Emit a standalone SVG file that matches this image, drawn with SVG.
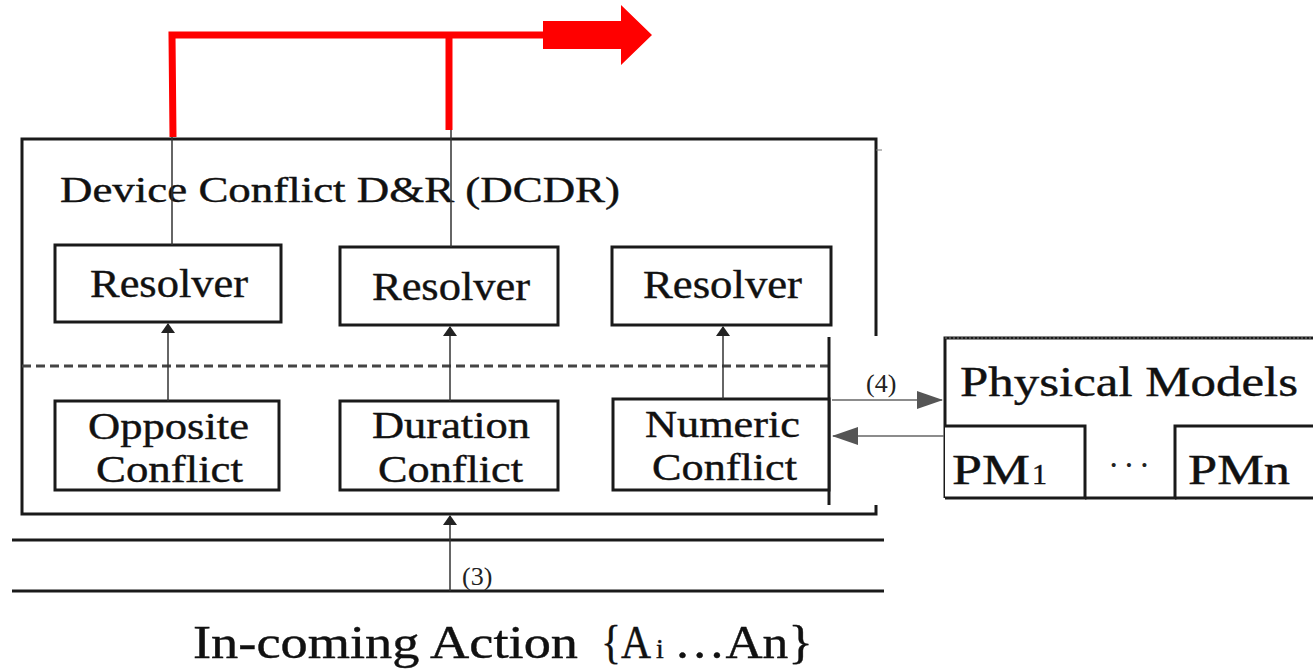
<svg xmlns="http://www.w3.org/2000/svg" width="1313" height="669" viewBox="0 0 1313 669">
<style>
.box{fill:#fff;stroke:#1a1a1a;stroke-width:3}
.t{font-family:"Liberation Serif","Times New Roman",serif;fill:#111;stroke:#111;stroke-width:0.4}
.s{font-family:"Liberation Serif","Times New Roman",serif;fill:#222}
.thin{stroke:#333;stroke-width:1.5;fill:none}
.red{stroke:#ff0000;stroke-width:7;fill:none}
</style>
<defs>
<marker id="ah" markerWidth="10" markerHeight="14" refX="9" refY="7" orient="auto" markerUnits="userSpaceOnUse">
<path d="M0,0 L10,7 L0,14 z" fill="#222"/>
</marker>
<marker id="ahg" markerWidth="26" markerHeight="18" refX="25" refY="9" orient="auto" markerUnits="userSpaceOnUse">
<path d="M0,0 L26,9 L0,18 z" fill="#555"/>
</marker>
</defs>
<rect width="1313" height="669" fill="#fff"/>

<g id="dcdr">
<path d="M876,336 L876,139 L22,139 L22,514 L876,514 L876,505" fill="none" stroke="#1a1a1a" stroke-width="3"/>
<line x1="876" y1="150" x2="882" y2="150" stroke="#777" stroke-width="1"/>
<text class="t" x="60" y="202" font-size="35" textLength="560" lengthAdjust="spacingAndGlyphs">Device Conflict D&amp;R (DCDR)</text>
<line x1="22" y1="366" x2="828" y2="366" stroke="#444" stroke-width="3" stroke-dasharray="9,5"/>
<line x1="829" y1="337" x2="829" y2="505" stroke="#1a1a1a" stroke-width="3"/>
</g>

<g id="resolver1"><rect class="box" x="55" y="245" width="226" height="77"/><text class="t" x="90" y="297" font-size="39" textLength="158" lengthAdjust="spacingAndGlyphs">Resolver</text></g>
<g id="resolver2"><rect class="box" x="340" y="247" width="218" height="78"/><text class="t" x="372" y="300" font-size="39" textLength="158" lengthAdjust="spacingAndGlyphs">Resolver</text></g>
<g id="resolver3"><rect class="box" x="612" y="247" width="219" height="78"/><text class="t" x="643" y="298" font-size="39" textLength="159" lengthAdjust="spacingAndGlyphs">Resolver</text></g>

<g id="opposite"><rect class="box" x="55" y="401" width="224" height="89"/>
<text class="t" x="88" y="439" font-size="38" textLength="161" lengthAdjust="spacingAndGlyphs">Opposite</text>
<text class="t" x="96" y="482" font-size="38" textLength="147" lengthAdjust="spacingAndGlyphs">Conflict</text></g>
<g id="duration"><rect class="box" x="340" y="401" width="218" height="89"/>
<text class="t" x="372" y="438" font-size="38" textLength="158" lengthAdjust="spacingAndGlyphs">Duration</text>
<text class="t" x="378" y="482" font-size="38" textLength="145" lengthAdjust="spacingAndGlyphs">Conflict</text></g>
<g id="numeric"><rect class="box" x="613" y="399" width="216" height="91"/>
<text class="t" x="645" y="437" font-size="38" textLength="155" lengthAdjust="spacingAndGlyphs">Numeric</text>
<text class="t" x="652" y="480" font-size="38" textLength="145" lengthAdjust="spacingAndGlyphs">Conflict</text></g>

<g id="physical-models">
<path d="M945,498 L945,338 L1313,338" fill="none" stroke="#1a1a1a" stroke-width="3"/>
<line x1="945" y1="338" x2="1313" y2="338" stroke="#888" stroke-width="1" stroke-dasharray="2,2"/>
<text class="t" x="960" y="396" font-size="42" textLength="338" lengthAdjust="spacingAndGlyphs">Physical Models</text>
</g>
<g id="pm1"><path d="M945,426 L1085,426 L1085,498 L945,498" fill="#fff" stroke="#1a1a1a" stroke-width="3"/>
<text class="t" x="952" y="484" font-size="42" textLength="78" lengthAdjust="spacingAndGlyphs">PM</text>
<text class="t" x="1032" y="484" font-size="30">1</text></g>
<text class="s" x="1108" y="476" font-size="34" letter-spacing="4" id="dots">···</text>
<g id="pmn"><path d="M1313,426 L1175,426 L1175,498 L1085,498" fill="none" stroke="#1a1a1a" stroke-width="3"/>
<line x1="1175" y1="498" x2="1313" y2="498" stroke="#1a1a1a" stroke-width="3"/>
<text class="t" x="1188" y="484" font-size="42" textLength="102" lengthAdjust="spacingAndGlyphs">PMn</text></g>

<g id="bus">
<line x1="12" y1="540" x2="884" y2="540" stroke="#1a1a1a" stroke-width="3"/>
<line x1="12" y1="591" x2="884" y2="591" stroke="#1a1a1a" stroke-width="3"/>
</g>

<g id="connectors">
<line class="thin" x1="172" y1="137" x2="172" y2="245"/>
<line class="thin" x1="451" y1="130" x2="451" y2="247"/>
<line class="thin" x1="168" y1="401" x2="168" y2="324" marker-end="url(#ah)"/>
<line class="thin" x1="450" y1="401" x2="450" y2="327" marker-end="url(#ah)"/>
<line class="thin" x1="723" y1="399" x2="723" y2="327" marker-end="url(#ah)"/>
<line class="thin" x1="450" y1="591" x2="450" y2="516" marker-end="url(#ah)"/>
<line x1="832" y1="400" x2="942" y2="400" stroke="#666" stroke-width="1.5" marker-end="url(#ahg)"/>
<line x1="944" y1="436" x2="833" y2="436" stroke="#666" stroke-width="1.5" marker-end="url(#ahg)"/>
<path class="red" d="M173,137 L172,35 L545,35"/>
<line class="red" x1="449" y1="35" x2="449" y2="130"/>
<path d="M543,21 L621,21 L621,5 L652,35 L621,65 L621,49 L543,49 z" fill="#ff0000"/>
<text class="s" x="866" y="392" font-size="26">(4)</text>
<text class="s" x="462" y="585" font-size="26">(3)</text>
</g>

<g id="incoming">
<text class="t" font-size="46" y="658"><tspan x="193" textLength="385" lengthAdjust="spacingAndGlyphs">In-coming Action</tspan><tspan x="601" textLength="50" lengthAdjust="spacingAndGlyphs">{A</tspan><tspan x="656" font-size="28">i</tspan><tspan x="674" textLength="139" lengthAdjust="spacingAndGlyphs">…An}</tspan></text>
</g>
</svg>
